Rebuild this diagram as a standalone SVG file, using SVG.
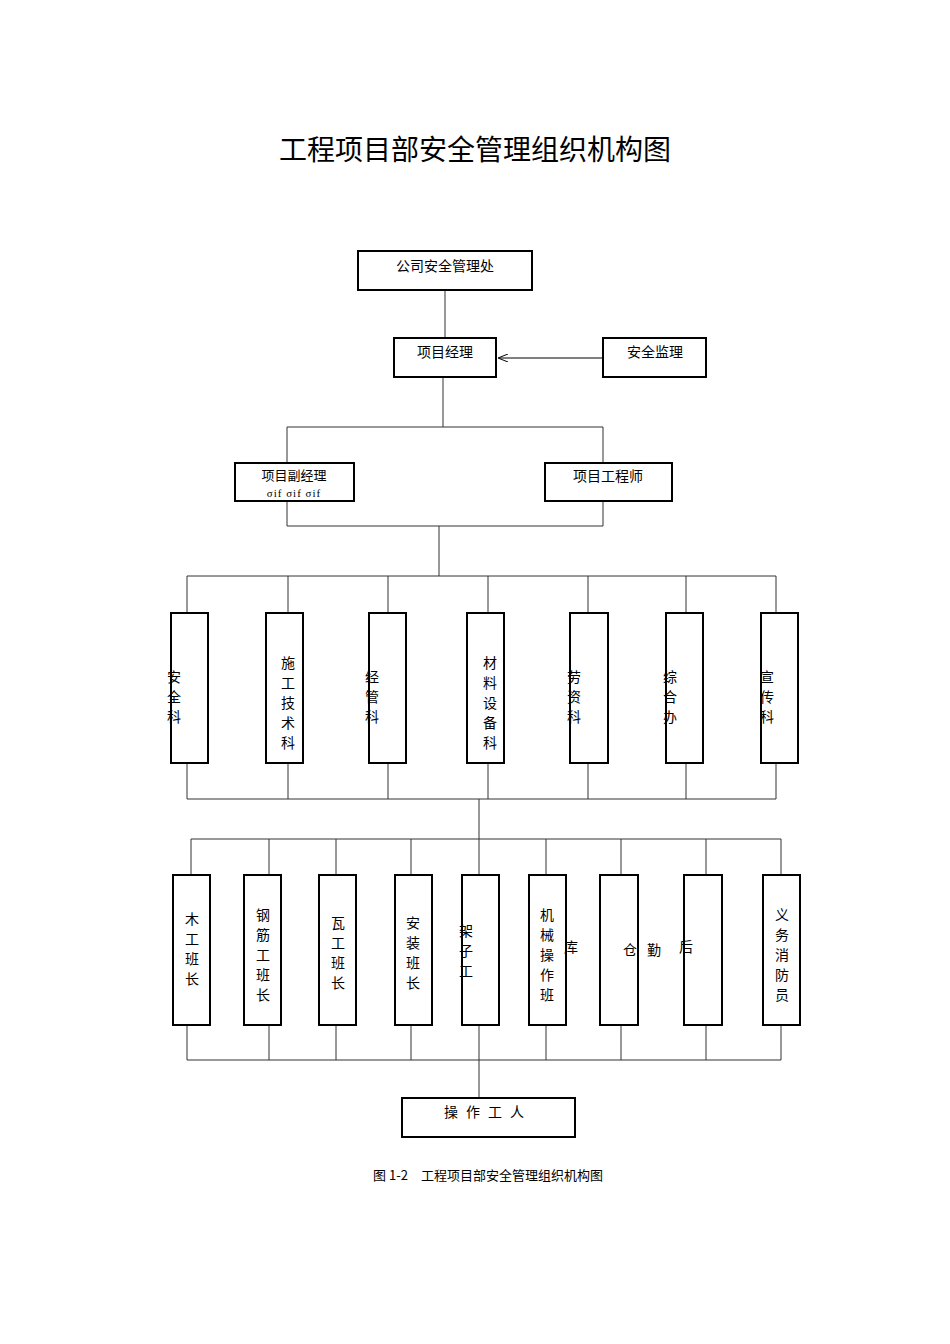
<svg xmlns="http://www.w3.org/2000/svg" width="950" height="1344" viewBox="0 0 950 1344">
<style>
.b{fill:#fff;stroke:#000;stroke-width:2}
.l{stroke:#333;stroke-width:1;fill:none}
text{font-family:"Noto Sans CJK SC","Liberation Serif",serif;fill:#000}
.t{font-size:14px;text-anchor:middle}
.v{font-size:14px;text-anchor:middle}
</style>
<defs><marker id="a" markerWidth="10" markerHeight="8" refX="9" refY="4" orient="auto"><path d="M0,0 L10,4 L0,8" fill="none" stroke="#000"/></marker></defs>
<rect width="950" height="1344" fill="#fff"/>
<text x="475" y="160" style="font-size:28px" text-anchor="middle">工程项目部安全管理组织机构图</text>
<g id="connectors">
<path class="l" d="M445,290V338M443,377V427M287,427H603M287,427V463M603,427V463M287,501V526M603,501V526M287,526H603M439,526V576M187,576H776M187,576V613M288,576V613M388,576V613M488,576V613M588,576V613M686,576V613M776,576V613M187,763V799M288,763V799M388,763V799M488,763V799M588,763V799M686,763V799M776,763V799M187,799H776M479,799V839M191,839H781M191,839V875M269,839V875M336,839V875M411,839V875M479,839V875M546,839V875M621,839V875M706,839V875M781,839V875M187,1025V1060M269,1025V1060M336,1025V1060M411,1025V1060M479,1025V1060M546,1025V1060M621,1025V1060M706,1025V1060M781,1025V1060M187,1060H781M479,1060V1098"/>
<path d="M603,358H499" stroke="#000" marker-end="url(#a)"/>
</g>
<g id="n1"><rect class="b" x="358" y="251" width="174" height="39"/><text class="t" x="445" y="271">公司安全管理处</text></g>
<g id="n2"><rect class="b" x="394" y="338" width="102" height="39"/><text class="t" x="445" y="357">项目经理</text></g>
<g id="n3"><rect class="b" x="603" y="338" width="103" height="39"/><text class="t" x="655" y="357">安全监理</text></g>
<g id="n4"><rect class="b" x="235" y="463" width="119" height="38"/><text x="294" y="480" style="font-size:13px" text-anchor="middle">项目副经理</text><text x="294" y="497" style="font-size:11px;letter-spacing:1px;font-family:'Liberation Serif',serif" text-anchor="middle">σif  σif  σif</text></g>
<g id="n5"><rect class="b" x="545" y="463" width="127" height="38"/><text class="t" x="608" y="481">项目工程师</text></g>
<g id="r1">
<rect class="b" x="171" y="613" width="37" height="150"/><rect class="b" x="266" y="613" width="37" height="150"/><rect class="b" x="369" y="613" width="37" height="150"/><rect class="b" x="467" y="613" width="37" height="150"/><rect class="b" x="570" y="613" width="38" height="150"/><rect class="b" x="666" y="613" width="37" height="150"/><rect class="b" x="761" y="613" width="37" height="150"/>
<text class="v"><tspan x="174" y="682">安</tspan><tspan x="174" y="702">全</tspan><tspan x="174" y="722">科</tspan></text>
<text class="v"><tspan x="288" y="668">施</tspan><tspan x="288" y="688">工</tspan><tspan x="288" y="708">技</tspan><tspan x="288" y="728">术</tspan><tspan x="288" y="748">科</tspan></text>
<text class="v"><tspan x="372" y="682">经</tspan><tspan x="372" y="702">管</tspan><tspan x="372" y="722">科</tspan></text>
<text class="v"><tspan x="490" y="668">材</tspan><tspan x="490" y="688">料</tspan><tspan x="490" y="708">设</tspan><tspan x="490" y="728">备</tspan><tspan x="490" y="748">科</tspan></text>
<text class="v"><tspan x="574" y="682">劳</tspan><tspan x="574" y="702">资</tspan><tspan x="574" y="722">科</tspan></text>
<text class="v"><tspan x="670" y="682">综</tspan><tspan x="670" y="702">合</tspan><tspan x="670" y="722">办</tspan></text>
<text class="v"><tspan x="767" y="682">宣</tspan><tspan x="767" y="702">传</tspan><tspan x="767" y="722">科</tspan></text>
</g>
<g id="r2">
<rect class="b" x="173" y="875" width="37" height="150"/><rect class="b" x="244" y="875" width="37" height="150"/><rect class="b" x="319" y="875" width="37" height="150"/><rect class="b" x="395" y="875" width="37" height="150"/><rect class="b" x="462" y="875" width="37" height="150"/><rect class="b" x="529" y="875" width="37" height="150"/><rect class="b" x="600" y="875" width="38" height="150"/><rect class="b" x="684" y="875" width="38" height="150"/><rect class="b" x="763" y="875" width="37" height="150"/>
<text class="v"><tspan x="192" y="924">木</tspan><tspan x="192" y="944">工</tspan><tspan x="192" y="964">班</tspan><tspan x="192" y="984">长</tspan></text>
<text class="v"><tspan x="263" y="920">钢</tspan><tspan x="263" y="940">筋</tspan><tspan x="263" y="960">工</tspan><tspan x="263" y="980">班</tspan><tspan x="263" y="1000">长</tspan></text>
<text class="v"><tspan x="338" y="928">瓦</tspan><tspan x="338" y="948">工</tspan><tspan x="338" y="968">班</tspan><tspan x="338" y="988">长</tspan></text>
<text class="v"><tspan x="413" y="928">安</tspan><tspan x="413" y="948">装</tspan><tspan x="413" y="968">班</tspan><tspan x="413" y="988">长</tspan></text>
<text class="v"><tspan x="466" y="936">架</tspan><tspan x="466" y="956">子</tspan><tspan x="466" y="976">工</tspan></text>
<text class="v"><tspan x="547" y="920">机</tspan><tspan x="547" y="940">械</tspan><tspan x="547" y="960">操</tspan><tspan x="547" y="980">作</tspan><tspan x="547" y="1000">班</tspan></text>
<text class="v" x="571" y="952">库</text>
<text class="v" x="630" y="955">仓</text>
<text class="v" x="654" y="955">勤</text>
<text class="v" x="686" y="952">后</text>
<text class="v"><tspan x="782" y="920">义</tspan><tspan x="782" y="940">务</tspan><tspan x="782" y="960">消</tspan><tspan x="782" y="980">防</tspan><tspan x="782" y="1000">员</tspan></text>
</g>
<g id="n6"><rect class="b" x="402" y="1098" width="173" height="39"/><text class="t" x="488" y="1117" style="letter-spacing:8px">操作工人</text></g>
<text x="488" y="1180" style="font-size:13px" text-anchor="middle">图 1-2　工程项目部安全管理组织机构图</text>
</svg>
